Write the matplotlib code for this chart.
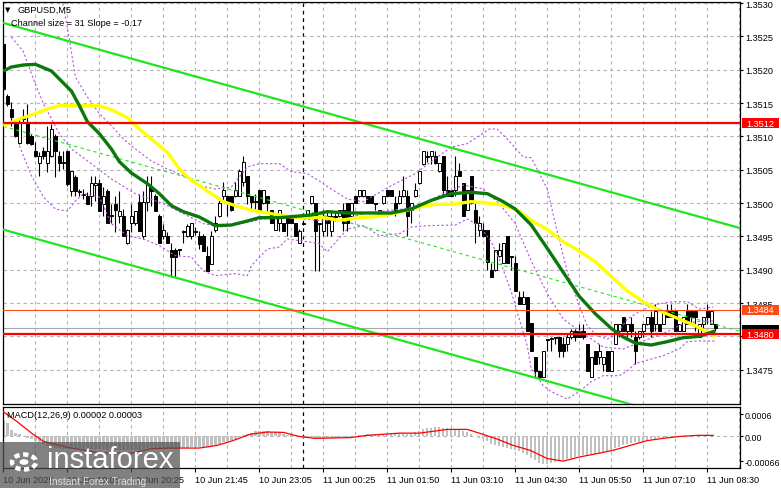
import matplotlib
matplotlib.use("Agg")
import matplotlib.pyplot as plt
from matplotlib.patches import Rectangle, Circle

plt.rcParams['font.family'] = ['Liberation Sans', 'DejaVu Sans']

# GBPUSD M5 candles, first bar 10 Jun 17:45
opens = [1.35238, 1.35160, 1.35141, 1.35118, 1.35090, 1.35126, 1.35120, 1.35100, 1.35078, 1.35060,
         1.35078, 1.35060, 1.35070, 1.35100, 1.35070, 1.35060, 1.35078, 1.35018, 1.35039, 1.35016,
         1.35014, 1.35010, 1.35010, 1.35027, 1.35030, 1.34998, 1.35018, 1.34980, 1.34998, 1.34980,
         1.34980, 1.34940, 1.34970, 1.34970, 1.35002, 1.34950, 1.35002, 1.35024, 1.35010, 1.34980,
         1.34950, 1.34950, 1.34930, 1.34930, 1.34930, 1.34958, 1.34950, 1.34950, 1.34958, 1.34950,
         1.34950, 1.34920, 1.34908, 1.34960, 1.34980, 1.35010, 1.35010, 1.35010, 1.35010, 1.35010,
         1.35032, 1.35040, 1.35010, 1.35002, 1.35020, 1.35000, 1.35010, 1.34990, 1.34960, 1.34970,
         1.34970, 1.34980, 1.34980, 1.34970, 1.34940, 1.34970, 1.34980, 1.35000, 1.35000, 1.34970,
         1.34958, 1.34980, 1.34958, 1.34980, 1.34980, 1.34990, 1.35000, 1.34980, 1.35010, 1.35010,
         1.35010, 1.35010, 1.35010, 1.35000, 1.34980, 1.35000, 1.35020, 1.35020, 1.35000, 1.35000,
         1.35010, 1.35010, 1.34990, 1.35010, 1.35030, 1.35058, 1.35070, 1.35070, 1.35070, 1.35048,
         1.35070, 1.35020, 1.35020, 1.35020, 1.35048, 1.35030, 1.34990, 1.35040, 1.34990, 1.34960,
         1.34960, 1.34960, 1.34900, 1.34900, 1.34920, 1.34910, 1.34950, 1.34920, 1.34910, 1.34859,
         1.34848, 1.34859, 1.34820, 1.34769, 1.34748, 1.34739, 1.34796, 1.34796, 1.34799, 1.34799,
         1.34788, 1.34788, 1.34799, 1.34808, 1.34808, 1.34808, 1.34788, 1.34739, 1.34778, 1.34769,
         1.34758, 1.34778, 1.34748, 1.34788, 1.34808, 1.34829, 1.34808, 1.34818, 1.34799, 1.34799,
         1.34808, 1.34818, 1.34829, 1.34818, 1.34818, 1.34818, 1.34838, 1.34838, 1.34838, 1.34808,
         1.34808, 1.34838, 1.34838, 1.34838, 1.34799, 1.34818, 1.34838, 1.34818, 1.34818]
highs = [1.35242, 1.35164, 1.35152, 1.35126, 1.35126, 1.35141, 1.35148, 1.35104, 1.35092, 1.35076,
         1.35084, 1.35116, 1.35118, 1.35104, 1.35078, 1.35078, 1.35080, 1.35048, 1.35042, 1.35021,
         1.35021, 1.35016, 1.35040, 1.35040, 1.35036, 1.35024, 1.35021, 1.34998, 1.35010, 1.35018,
         1.34991, 1.34961, 1.34998, 1.34988, 1.35014, 1.35018, 1.35040, 1.35040, 1.35014, 1.34984,
         1.34968, 1.34956, 1.34940, 1.34932, 1.34931, 1.34960, 1.34968, 1.34970, 1.34964, 1.34958,
         1.34954, 1.34936, 1.34958, 1.34980, 1.35009, 1.35032, 1.35010, 1.35010, 1.35032, 1.35051,
         1.35070, 1.35040, 1.35010, 1.35014, 1.35020, 1.35020, 1.35010, 1.34990, 1.34980, 1.34990,
         1.34970, 1.34980, 1.34980, 1.34970, 1.34961, 1.34970, 1.34990, 1.35010, 1.35000, 1.34970,
         1.34990, 1.34990, 1.34990, 1.34985, 1.34990, 1.35000, 1.35000, 1.35000, 1.35010, 1.35020,
         1.35020, 1.35010, 1.35010, 1.35000, 1.34990, 1.35010, 1.35020, 1.35020, 1.35010, 1.35020,
         1.35040, 1.35020, 1.35000, 1.35030, 1.35048, 1.35078, 1.35078, 1.35078, 1.35078, 1.35060,
         1.35070, 1.35040, 1.35020, 1.35070, 1.35060, 1.35030, 1.35020, 1.35040, 1.35000, 1.34980,
         1.34970, 1.34960, 1.34910, 1.34930, 1.34940, 1.34940, 1.34950, 1.34920, 1.34920, 1.34868,
         1.34868, 1.34859, 1.34820, 1.34769, 1.34748, 1.34778, 1.34796, 1.34799, 1.34799, 1.34799,
         1.34799, 1.34803, 1.34811, 1.34811, 1.34818, 1.34818, 1.34788, 1.34769, 1.34778, 1.34788,
         1.34769, 1.34778, 1.34778, 1.34818, 1.34818, 1.34829, 1.34818, 1.34829, 1.34808, 1.34808,
         1.34818, 1.34829, 1.34838, 1.34848, 1.34818, 1.34838, 1.34848, 1.34848, 1.34838, 1.34818,
         1.34829, 1.34848, 1.34838, 1.34838, 1.34818, 1.34829, 1.34848, 1.34838, 1.34818]
lows = [1.35168, 1.35146, 1.35116, 1.35099, 1.35088, 1.35122, 1.35088, 1.35087, 1.35069, 1.35040,
        1.35066, 1.35046, 1.35069, 1.35039, 1.35048, 1.35051, 1.35026, 1.35010, 1.35010, 1.35010,
        1.35006, 1.34998, 1.34995, 1.35003, 1.34988, 1.34980, 1.34970, 1.34970, 1.34956, 1.34970,
        1.34950, 1.34938, 1.34956, 1.34967, 1.34958, 1.34946, 1.34988, 1.34995, 1.34988, 1.34940,
        1.34946, 1.34940, 1.34889, 1.34889, 1.34922, 1.34940, 1.34949, 1.34946, 1.34952, 1.34931,
        1.34928, 1.34898, 1.34908, 1.34956, 1.34979, 1.35002, 1.34980, 1.34988, 1.35009, 1.35010,
        1.35026, 1.34998, 1.34988, 1.34991, 1.34988, 1.34998, 1.34988, 1.34970, 1.34960, 1.34958,
        1.34958, 1.34950, 1.34970, 1.34950, 1.34940, 1.34967, 1.34979, 1.34998, 1.34898, 1.34898,
        1.34950, 1.34950, 1.34950, 1.34973, 1.34979, 1.34958, 1.34958, 1.34979, 1.35000, 1.35009,
        1.35009, 1.35000, 1.35000, 1.34990, 1.34979, 1.34998, 1.35010, 1.35010, 1.34980, 1.34998,
        1.35009, 1.34950, 1.34970, 1.35009, 1.35028, 1.35057, 1.35062, 1.35058, 1.35058, 1.35046,
        1.35010, 1.35010, 1.35010, 1.35010, 1.35040, 1.34980, 1.34990, 1.34998, 1.34940, 1.34950,
        1.34949, 1.34900, 1.34889, 1.34898, 1.34919, 1.34910, 1.34910, 1.34900, 1.34868, 1.34848,
        1.34848, 1.34808, 1.34778, 1.34739, 1.34739, 1.34739, 1.34778, 1.34778, 1.34788, 1.34769,
        1.34769, 1.34778, 1.34796, 1.34793, 1.34799, 1.34796, 1.34748, 1.34739, 1.34758, 1.34758,
        1.34748, 1.34748, 1.34748, 1.34788, 1.34799, 1.34808, 1.34799, 1.34799, 1.34758, 1.34796,
        1.34799, 1.34817, 1.34799, 1.34808, 1.34808, 1.34818, 1.34829, 1.34829, 1.34808, 1.34808,
        1.34808, 1.34818, 1.34818, 1.34808, 1.34799, 1.34808, 1.34818, 1.34818, 1.34808]
closes = [1.35171, 1.35148, 1.35129, 1.35100, 1.35120, 1.35130, 1.35090, 1.35088, 1.35070, 1.35070,
          1.35070, 1.35078, 1.35111, 1.35078, 1.35060, 1.35062, 1.35028, 1.35048, 1.35018, 1.35018,
          1.35012, 1.34998, 1.35030, 1.35030, 1.34988, 1.35010, 1.34970, 1.34980, 1.34990, 1.34988,
          1.34950, 1.34960, 1.34980, 1.34988, 1.34958, 1.35002, 1.35028, 1.35018, 1.34988, 1.34940,
          1.34960, 1.34940, 1.34919, 1.34919, 1.34929, 1.34957, 1.34966, 1.34970, 1.34956, 1.34938,
          1.34928, 1.34898, 1.34950, 1.34970, 1.35000, 1.35020, 1.35000, 1.34990, 1.35020, 1.35048,
          1.35062, 1.35010, 1.35002, 1.35001, 1.34990, 1.35020, 1.35000, 1.34970, 1.34980, 1.34990,
          1.34958, 1.34970, 1.34970, 1.34950, 1.34958, 1.34969, 1.34990, 1.35010, 1.34958, 1.34968,
          1.34980, 1.34970, 1.34980, 1.34979, 1.34990, 1.34970, 1.34970, 1.35000, 1.35000, 1.35020,
          1.35020, 1.35000, 1.35000, 1.34998, 1.34990, 1.35010, 1.35010, 1.35010, 1.34990, 1.35010,
          1.35020, 1.34980, 1.35000, 1.35020, 1.35048, 1.35078, 1.35069, 1.35078, 1.35060, 1.35060,
          1.35020, 1.35010, 1.35010, 1.35040, 1.35040, 1.34980, 1.35020, 1.35000, 1.34970, 1.34970,
          1.34950, 1.34912, 1.34889, 1.34930, 1.34930, 1.34940, 1.34910, 1.34919, 1.34868, 1.34848,
          1.34859, 1.34808, 1.34778, 1.34748, 1.34739, 1.34778, 1.34795, 1.34797, 1.34798, 1.34778,
          1.34778, 1.34799, 1.34808, 1.34799, 1.34799, 1.34799, 1.34748, 1.34769, 1.34758, 1.34778,
          1.34769, 1.34748, 1.34778, 1.34818, 1.34818, 1.34808, 1.34818, 1.34808, 1.34778, 1.34808,
          1.34818, 1.34829, 1.34808, 1.34838, 1.34808, 1.34838, 1.34829, 1.34829, 1.34808, 1.34818,
          1.34829, 1.34818, 1.34829, 1.34829, 1.34818, 1.34829, 1.34829, 1.34838, 1.34812]

# moving averages (bar index, price)
fast_idx = [0, 2, 5, 8, 12, 14, 17, 19, 21, 24, 27, 29, 32, 36, 39, 42, 45, 49, 53, 57, 61, 64, 69,
            73, 77, 81, 86, 90, 97, 102, 107, 112, 117, 121, 125, 128, 132, 136, 140, 144, 148, 152,
            155, 158, 162, 166, 170, 174, 178]
fast_ma = [1.35198, 1.35204, 1.35207, 1.35208, 1.35198, 1.35186, 1.35168, 1.35146, 1.35122, 1.35104,
           1.35081, 1.35062, 1.35045, 1.35029, 1.35014, 1.34996, 1.34987, 1.34979, 1.34966, 1.34967,
           1.34973, 1.34978, 1.34978, 1.34980, 1.34982, 1.34987, 1.34985, 1.34985, 1.34985, 1.34991,
           1.35004, 1.35014, 1.35016, 1.35014, 1.35002, 1.34991, 1.34967, 1.34932, 1.34896, 1.34860,
           1.34834, 1.34812, 1.34799, 1.34790, 1.34787, 1.34792, 1.34798, 1.34800, 1.34808]
slow_idx = [0, 4, 8, 11, 14, 19, 24, 27, 31, 34, 37, 41, 44, 47, 51, 55, 59, 63, 67, 72, 76, 80, 84,
            89, 94, 99, 104, 108, 112, 117, 121, 125, 129, 132, 136, 140, 144, 148, 152, 156, 160,
            165, 169, 173, 178]
slow_ma = [1.35116, 1.35126, 1.35134, 1.35141, 1.35146, 1.35146, 1.35146, 1.35140, 1.35128, 1.35111,
           1.35096, 1.35076, 1.35051, 1.35034, 1.35018, 1.35002, 1.34994, 1.34988, 1.34984, 1.34979,
           1.34978, 1.34978, 1.34974, 1.34978, 1.34980, 1.34986, 1.34994, 1.34998, 1.34998, 1.35002,
           1.35000, 1.34997, 1.34988, 1.34974, 1.34960, 1.34942, 1.34928, 1.34912, 1.34890, 1.34868,
           1.34852, 1.34836, 1.34826, 1.34816, 1.34800]

# bollinger bands (bar index, price)
bb_up_idx = [14, 16.5, 18, 21, 24, 27, 30, 33, 37, 41, 45, 49, 53, 57, 61, 64, 69, 72, 76, 79, 82, 86,
             90, 97, 103, 107, 112, 116, 119, 121.5, 123.5, 126, 130, 132, 136, 138.5, 141, 144, 146,
             148.5, 151, 153.5, 156, 159, 161.5, 164, 167.5, 171, 174, 177.5]
bb_up = [1.35328, 1.35246, 1.35189, 1.35159, 1.35134, 1.35116, 1.35096, 1.35081, 1.35063, 1.35051,
         1.35041, 1.35026, 1.35021, 1.35024, 1.35054, 1.35059, 1.35059, 1.35047, 1.35044, 1.35033,
         1.35021, 1.35006, 1.35002, 1.35026, 1.35044, 1.35062, 1.35084, 1.35089, 1.35101, 1.35111,
         1.35111, 1.35096, 1.35069, 1.35068, 1.35021, 1.34957, 1.34897, 1.34846, 1.34816, 1.34801,
         1.34796, 1.34804, 1.34826, 1.34837, 1.34844, 1.34849, 1.34852, 1.34852, 1.34841, 1.34844]
bb_mid_idx = [2, 5, 7.5, 10, 14, 17, 22, 27, 33, 40, 45, 50, 55, 60, 65, 70, 75, 80, 85, 90, 95, 100,
              105, 110, 115, 120, 124, 128, 132, 136, 140, 145, 150, 155, 160, 165, 170, 175, 178]
bb_mid = [1.35249, 1.35227, 1.35186, 1.35149, 1.35104, 1.35081, 1.35059, 1.35036, 1.35014, 1.34999,
          1.34984, 1.34969, 1.34964, 1.34970, 1.34976, 1.34979, 1.34976, 1.34973, 1.34975, 1.34984,
          1.34988, 1.34991, 1.34999, 1.35014, 1.35027, 1.35021, 1.34999, 1.34969, 1.34913, 1.34864,
          1.34826, 1.34804, 1.34784, 1.34781, 1.34793, 1.34804, 1.34819, 1.34823, 1.34823]
bb_lo_idx = [4, 7, 10, 13, 16, 18, 20, 24, 27, 31, 35, 39, 43, 47, 50, 53, 58, 61, 62, 66, 69, 71, 76,
             79, 81, 86, 90, 94, 99, 102, 106, 113, 116, 119, 122, 124, 127, 129, 131, 132, 135, 137,
             141, 144, 147, 150, 154, 156, 158, 162, 165, 169, 171, 174, 178]
bb_lo = [1.35086, 1.35041, 1.35009, 1.34991, 1.34988, 1.35003, 1.35014, 1.35009, 1.34969, 1.34951,
         1.34946, 1.34936, 1.34921, 1.34919, 1.34898, 1.34891, 1.34894, 1.34891, 1.34906, 1.34931,
         1.34934, 1.34946, 1.34942, 1.34939, 1.34927, 1.34961, 1.34966, 1.34951, 1.34954, 1.34964,
         1.34966, 1.34967, 1.34976, 1.34966, 1.34942, 1.34916, 1.34867, 1.34826, 1.34786, 1.34751,
         1.34726, 1.34717, 1.34706, 1.34717, 1.34732, 1.34741, 1.34741, 1.34748, 1.34759, 1.34766,
         1.34771, 1.34781, 1.34792, 1.34793, 1.34793]

# regression channel, from the label: size 31 pips, slope -0.17 pips per bar
channel_top_start = 1.35270
channel_slope = -0.0000167
channel_size = 0.0031

levels_red = [1.3512, 1.34803]
level_orange = 1.3484
bid = 1.34812
price_tags = [("1.3512", 1.3512, "#ff0000"), ("1.3484", 1.3484, "#ff4a14"),
              ("1.3481", 1.34809, "#000000"), ("1.3480", 1.34803, "#ff0000")]

# MACD(12,26,9): histogram per bar, signal line as points
macd_hist = [0.00041, 0.00035, 0.00018, 0.00010, 0.00006, 0.00001, -0.00004, -0.00008, -0.00012, -0.00016,
             -0.00020, -0.00025, -0.00028, -0.00030, -0.00031, -0.00033, -0.00033, -0.00033, -0.00034, -0.00034,
             -0.00034, -0.00034, -0.00033, -0.00033, -0.00034, -0.00034, -0.00035, -0.00035, -0.00035, -0.00035,
             -0.00036, -0.00036, -0.00035, -0.00035, -0.00035, -0.00034, -0.00032, -0.00032, -0.00033, -0.00034,
             -0.00033, -0.00033, -0.00034, -0.00034, -0.00033, -0.00031, -0.00030, -0.00029, -0.00029, -0.00029,
             -0.00029, -0.00029, -0.00026, -0.00023, -0.00019, -0.00015, -0.00012, -0.00009, -0.00006, -0.00002,
             0.00003, 0.00006, 0.00010, 0.00014, 0.00015, 0.00016, 0.00015, 0.00013, 0.00011, 0.00010,
             0.00007, 0.00005, 0.00003, 0.00001, -0.00001, -0.00003, -0.00003, -0.00002, -0.00004, -0.00005,
             -0.00005, -0.00005, -0.00005, -0.00005, -0.00004, -0.00003, -0.00002, 0.00000, 0.00002, 0.00004,
             0.00005, 0.00006, 0.00006, 0.00006, 0.00007, 0.00008, 0.00009, 0.00009, 0.00008, 0.00009,
             0.00009, 0.00008, 0.00009, 0.00011, 0.00015, 0.00019, 0.00022, 0.00024, 0.00025, 0.00025,
             0.00024, 0.00023, 0.00021, 0.00020, 0.00019, 0.00014, 0.00011, 0.00007, 0.00002, -0.00003,
             -0.00007, -0.00013, -0.00019, -0.00022, -0.00026, -0.00028, -0.00031, -0.00033, -0.00036, -0.00040,
             -0.00044, -0.00050, -0.00057, -0.00064, -0.00071, -0.00075, -0.00075, -0.00072, -0.00068, -0.00066,
             -0.00063, -0.00060, -0.00058, -0.00055, -0.00052, -0.00050, -0.00050, -0.00048, -0.00046, -0.00044,
             -0.00042, -0.00040, -0.00037, -0.00032, -0.00028, -0.00024, -0.00021, -0.00018, -0.00016, -0.00014,
             -0.00012, -0.00010, -0.00008, -0.00006, -0.00005, -0.00004, -0.00003, -0.00002, -0.00001, 0.00000,
             0.00001, 0.00001, 0.00002, 0.00002, 0.00002, 0.00002, 0.00002, 0.00002, 0.00002]
signal_idx = [0, 3.4, 7.4, 10, 16, 24, 32.5, 36.7, 41, 49, 53.4, 57.4, 61.7, 66, 70, 74, 78, 86.7, 91,
              99, 104, 111, 116, 119, 123.5, 127.5, 131.7, 136, 140, 144, 148.4, 152.5, 156.7, 161,
              165, 169, 173.4, 177.5]
signal = [0.00066, 0.00040, 0.00006, -0.00013, -0.00029, -0.00044, -0.00044, -0.00033, -0.00031,
          -0.00031, -0.00024, -0.00011, 0.00006, 0.00012, 0.00011, 0.00000, -0.00005, -0.00003, 0.00003,
          0.00009, 0.00009, 0.00019, 0.00019, 0.00009, -0.00007, -0.00024, -0.00037, -0.00059, -0.00066,
          -0.00055, -0.00046, -0.00037, -0.00024, -0.00011, -0.00005, 0.00000, 0.00003, 0.00003]

time_labels = ["10 Jun 2025", "10 Jun 19:05", "10 Jun 20:25", "10 Jun 21:45", "10 Jun 23:05",
               "11 Jun 00:25", "11 Jun 01:50", "11 Jun 03:10", "11 Jun 04:30", "11 Jun 05:50",
               "11 Jun 07:10", "11 Jun 08:30"]
day_break = 75

W, H = 781, 489
fig = plt.figure(figsize=(W / 100, H / 100), dpi=100)
fig.patch.set_facecolor("white")


def px_box(x0, y0, x1, y1):
    return [x0 / W, 1 - y1 / H, (x1 - x0) / W, (y1 - y0) / H]


ax = fig.add_axes(px_box(3, 3, 740, 405))
axm = fig.add_axes(px_box(3, 408, 740, 469), sharex=ax)

n = len(closes)
x = list(range(n))
grid_kw = dict(color="#b4b4b4", linestyle=(0, (3, 3)), linewidth=0.8)

# main panel; the 1.3480 scale label sits under its price tag, so it is left blank
ax.set_xlim(-0.1, 184.2)
ax.set_ylim(1.346985, 1.353015)
ax.set_xticks(range(0, n, 16))
ax.set_xticks(range(8, n + 8, 16), minor=True)
yt = [1.3475 + 0.0005 * k for k in range(12)]
ax.set_yticks(yt)
ax.set_yticklabels(["" if abs(v - 1.3480) < 1e-6 else f"{v:.4f}" for v in yt])
ax.grid(True, which="both", **grid_kw)
ax.yaxis.tick_right()
ax.tick_params(axis="y", direction="out", length=2.5, width=0.8, labelsize=6.6, pad=1.5)
ax.tick_params(axis="x", which="both", length=0, labelbottom=False)
for s in ax.spines.values():
    s.set_linewidth(0.9)

ax.axvline(day_break, color="black", linestyle=(0, (3, 3)), linewidth=0.9, zorder=1)

# candles
for i in x:
    o, h, l, c = opens[i], highs[i], lows[i], closes[i]
    ax.vlines(i, l, h, color="black", linewidth=0.8, zorder=3)
    fill = "black" if c < o else "white"
    ax.bar(i, max(abs(c - o), 0.000015), bottom=min(o, c), width=0.7,
           color=fill, edgecolor="black", linewidth=0.7, zorder=3)

# bollinger bands
for bi, bv in ((bb_up_idx, bb_up), (bb_mid_idx, bb_mid), (bb_lo_idx, bb_lo)):
    ax.plot(bi, bv, color="#b455e0", linewidth=0.8, linestyle=(0, (2, 2)), zorder=4)

# channel
x_end = 184.2
top_end = channel_top_start + channel_slope * x_end
ax.plot([0, x_end], [channel_top_start, top_end], color="#1ee61e", linewidth=1.6, zorder=5)
ax.plot([0, x_end], [channel_top_start - channel_size, top_end - channel_size],
        color="#1ee61e", linewidth=1.6, zorder=5)
ax.plot([0, x_end], [channel_top_start - channel_size / 2, top_end - channel_size / 2],
        color="#1ee61e", linewidth=0.8, linestyle=(0, (3, 3)), zorder=5)

# moving averages
ax.plot(slow_idx, slow_ma, color="#ffff00", linewidth=2.4, zorder=6, solid_capstyle="butt")
ax.plot(fast_idx, fast_ma, color="#0a780a", linewidth=2.4, zorder=7, solid_capstyle="butt")

# horizontal levels
for lv in levels_red:
    ax.axhline(lv, color="#ff0000", linewidth=1.6, zorder=8)
ax.axhline(level_orange, color="#ff4a14", linewidth=0.8, zorder=8)
ax.axhline(bid, color="#a8a8a8", linewidth=0.8, zorder=2)

# price tags on the right scale
ytrans = ax.get_yaxis_transform()
tag_w = 37 / 737
tag_h = 0.00015
for k, (txt, lv, col) in enumerate(price_tags):
    ax.add_patch(Rectangle((1.0025, lv - tag_h / 2), tag_w, tag_h, transform=ytrans,
                           fc=col, ec="none", clip_on=False, zorder=20 + 2 * k))
    if col != "#000000":
        ax.text(1.0025 + tag_w / 2, lv, txt, transform=ytrans, color="white", fontsize=6.6,
                ha="center", va="center", clip_on=False, zorder=21 + 2 * k)

# MACD panel
axm.bar(x, macd_hist, width=0.6, color="#c0c0c0", zorder=2)
axm.plot(signal_idx, signal, color="#ff0000", linewidth=0.9, zorder=3)
axm.set_ylim(-0.000844, 0.00079)
axm.set_yticks([0.0006, 0.0, -0.00066])
axm.set_yticklabels(["0.0006", "0.00", "-0.00066"])
axm.yaxis.tick_right()
axm.tick_params(axis="y", direction="out", length=2.5, width=0.8, labelsize=6.4, pad=1)
axm.axhline(0, **grid_kw, zorder=1)
axm.grid(True, axis="x", which="both", **grid_kw)
axm.axvline(day_break, color="black", linestyle=(0, (3, 3)), linewidth=0.9, zorder=1)
axm.set_xticks(range(0, n, 16))
axm.set_xticklabels(time_labels)
axm.tick_params(axis="x", which="major", direction="out", length=3, width=0.8,
                labelsize=6.6, pad=2)
axm.tick_params(axis="x", which="minor", length=0)
for lab in axm.get_xticklabels():
    lab.set_ha("left")
for s in axm.spines.values():
    s.set_linewidth(0.9)

# header texts
fig.text(5 / W, 1 - 10 / H, "\u25bc", fontsize=5, family="DejaVu Sans", va="center")
fig.text(17 / W, 1 - 10 / H, "GBPUSD,M5", fontsize=6.6, va="center", zorder=20)
fig.text(11 / W, 1 - 24 / H, "Channel size = 31 Slope = -0.17", fontsize=6.6,
         va="center", zorder=20)
fig.text(7 / W, 1 - 416 / H, "MACD(12,26,9) 0.00002 0.00003", fontsize=6.6,
         va="center", zorder=20)

# watermark
fig.patches.append(Rectangle((0, 0), 180 / W, 46 / H, transform=fig.transFigure,
                             fc="#505050", alpha=0.72, ec="none", zorder=30))
fig.patches.append(Circle((24 / W, 1 - 463 / H), 12 / W, transform=fig.transFigure,
                          fc="none", ec="white", lw=3.2, linestyle=(0, (1.2, 0.8)), zorder=31))
fig.patches.append(Circle((24 / W, 1 - 463 / H), 4.5 / W, transform=fig.transFigure,
                          fc="white", ec="none", zorder=31))
fig.text(47 / W, 1 - 460 / H, "instaforex", fontsize=21, color="white", va="center",
         zorder=32)
fig.text(49 / W, 1 - 482 / H, "Instant Forex Trading", fontsize=7.4, color="#dddddd",
         va="center", zorder=32)

fig.savefig("out.png", dpi=100, facecolor="white")
